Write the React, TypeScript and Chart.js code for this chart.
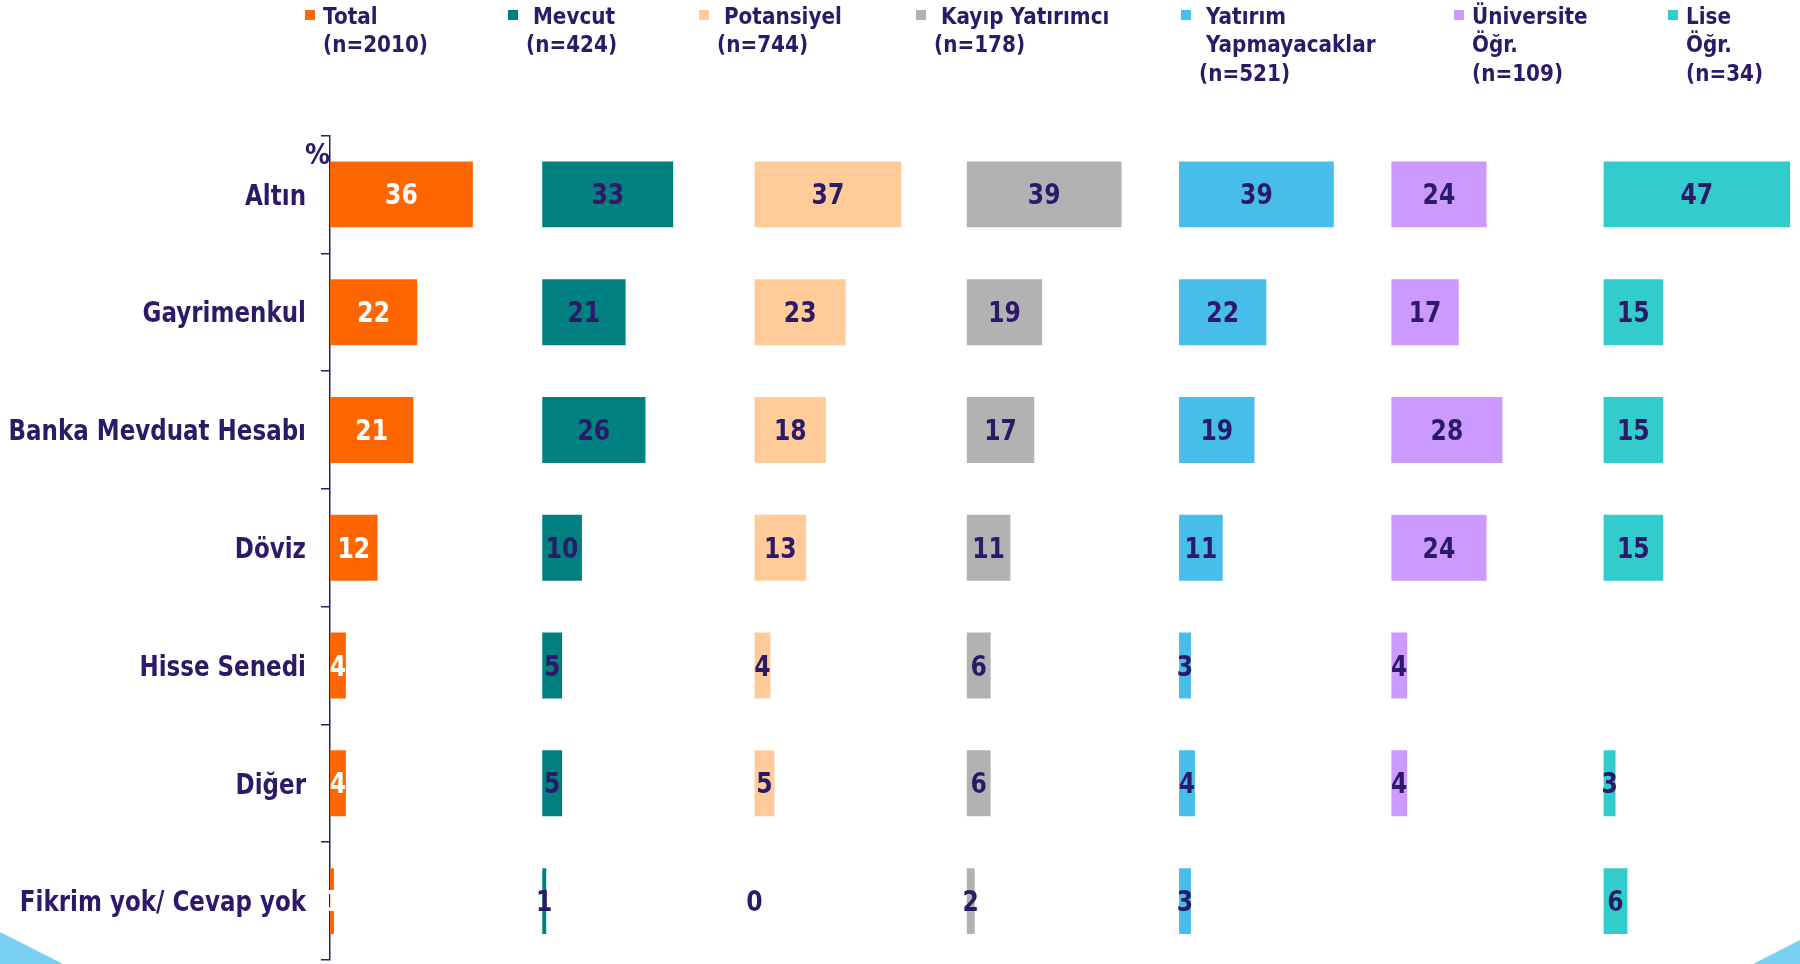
import React, { useEffect, useRef } from "react";
import { Chart, registerables } from "chart.js";

Chart.register(...registerables);

// ---------- DATA ----------
const categories = [
  "Altın",
  "Gayrimenkul",
  "Banka Mevduat Hesabı",
  "Döviz",
  "Hisse Senedi",
  "Diğer",
  "Fikrim yok/ Cevap yok",
];

const seriesLegend: string[][] = [
  ["Total", "(n=2010)"],
  [" Mevcut", "(n=424)"],
  [" Potansiyel", "(n=744)"],
  [" Kayıp Yatırımcı", "(n=178)"],
  [" Yatırım", " Yapmayacaklar", "(n=521)"],
  ["Üniversite", "Öğr.", "(n=109)"],
  ["Lise", "Öğr.", "(n=34)"],
];

const totalValues = [36, 22, 21, 12, 4, 4, 1];
const mevcutValues = [33, 21, 26, 10, 5, 5, 1];
const potansiyelValues = [37, 23, 18, 13, 4, 5, 0];
const kayipValues = [39, 19, 17, 11, 6, 6, 2];
const yatirimValues = [39, 22, 19, 11, 3, 4, 3];
const universiteValues: (number | null)[] = [24, 17, 28, 24, 4, 4, null];
const liseValues: (number | null)[] = [47, 15, 15, 15, null, 3, 6];

const seriesValues: (number | null)[][] = [
  totalValues,
  mevcutValues,
  potansiyelValues,
  kayipValues,
  yatirimValues,
  universiteValues,
  liseValues,
];

const seriesColors = ["#FF6600", "#008080", "#FFCC99", "#B2B2B2", "#47BEEA", "#CC99FF", "#33CCCC"];

// ---------- STYLE / LAYOUT ----------
const NAVY = "#2C1A69";
const FONT = '"DejaVu Sans", Verdana, sans-serif';
const PANEL_STEP = 53.5; // units between panel origins
const X_MAX = 370.5;
const AXIS_X = 330;
const LEGEND_X = [305, 508, 699, 916, 1181, 1454, 1668];
const labelColors = ["#FFFFFF", NAVY, NAVY, NAVY, NAVY, NAVY, NAVY];

function drawTextBaseline(
  ctx: CanvasRenderingContext2D,
  text: string,
  x: number,
  baseline: number,
  size: number,
  vscale: number,
  color: string,
  align: CanvasTextAlign
) {
  ctx.save();
  ctx.font = `bold ${size}px ${FONT}`;
  ctx.fillStyle = color;
  ctx.textAlign = align;
  ctx.textBaseline = "alphabetic";
  ctx.translate(x, baseline);
  ctx.scale(1, vscale);
  ctx.fillText(text, 0, 0);
  ctx.restore();
}

function drawTextCentered(
  ctx: CanvasRenderingContext2D,
  text: string,
  x: number,
  yCenter: number,
  size: number,
  vscale: number,
  color: string,
  align: CanvasTextAlign
) {
  const cap = 0.729 * size * vscale;
  drawTextBaseline(ctx, text, x, yCenter + cap / 2, size, vscale, color, align);
}

const backgroundPlugin = {
  id: "bgDecor",
  beforeDraw(chart: any) {
    const { ctx, width, height } = chart;
    ctx.save();
    ctx.fillStyle = "#FFFFFF";
    ctx.fillRect(0, 0, width, height);
    ctx.fillStyle = "#79CFF2";
    ctx.beginPath();
    ctx.moveTo(0, height - 32);
    ctx.lineTo(63, height);
    ctx.lineTo(0, height);
    ctx.closePath();
    ctx.fill();
    ctx.beginPath();
    ctx.moveTo(width, height - 24);
    ctx.lineTo(width, height);
    ctx.lineTo(width - 47, height);
    ctx.closePath();
    ctx.fill();
    ctx.restore();
  },
};

const labelsPlugin = {
  id: "valueLabels",
  afterDatasetsDraw(chart: any) {
    const ctx = chart.ctx;
    chart.data.datasets.forEach((_ds: any, di: number) => {
      const meta = chart.getDatasetMeta(di);
      const vals = seriesValues[di];
      meta.data.forEach((el: any, i: number) => {
        const v = vals[i];
        if (v == null) return;
        const p = el.getProps(["x", "y", "base"], true);
        drawTextCentered(ctx, String(v), (p.x + p.base) / 2, p.y, 23.5, 1.17, labelColors[di], "center");
      });
    });
  },
  afterDraw(chart: any) {
    const ctx = chart.ctx;
    const yScale = chart.scales.y;
    const labels: string[] = chart.data.labels;
    labels.forEach((c, i) => {
      drawTextCentered(ctx, c, yScale.right - 24, yScale.getPixelForValue(i), 23, 1.23, NAVY, "right");
    });
    drawTextCentered(ctx, "%", yScale.right, chart.chartArea.top + 18.5, 25, 1.1, NAVY, "right");

    // legend
    chart.data.datasets.forEach((ds: any, di: number) => {
      const lx = LEGEND_X[di];
      ctx.save();
      ctx.fillStyle = ds.backgroundColor;
      ctx.fillRect(lx, 10, 10, 10);
      ctx.restore();
      seriesLegend[di].forEach((line, j) => {
        drawTextBaseline(ctx, line, lx + 18, 23.5 + j * 28.5, 20, 1.15, NAVY, "left");
      });
    });
  },
};

export default function App() {
  const ref = useRef<HTMLCanvasElement>(null);

  useEffect(() => {
    if (!ref.current) return;
    const datasets = seriesValues.map((vals, k) => ({
      label: seriesLegend[k].join(" ").trim(),
      data: vals.map((v) => (v == null ? null : [k * PANEL_STEP, k * PANEL_STEP + v])),
      backgroundColor: seriesColors[k],
      borderWidth: 0,
      grouped: false,
      barPercentage: 0.56,
      categoryPercentage: 1,
    }));

    const chart = new Chart(ref.current, {
      type: "bar",
      data: { labels: categories, datasets: datasets as any },
      options: {
        indexAxis: "y",
        animation: false,
        responsive: false,
        maintainAspectRatio: false,
        events: [],
        layout: { padding: { top: 135.5, bottom: 4, left: 0, right: 0 } },
        plugins: {
          legend: { display: false },
          tooltip: { enabled: false },
          title: { display: false },
        },
        scales: {
          x: { type: "linear", display: false, min: 0, max: X_MAX },
          y: {
            type: "category",
            offset: true,
            grid: {
              offset: true,
              drawOnChartArea: false,
              drawTicks: true,
              tickLength: 9,
              color: NAVY,
              lineWidth: 1.5,
            },
            border: { display: true, color: NAVY, width: 1.5 },
            ticks: { display: false },
            afterFit: (s: any) => {
              s.width = AXIS_X;
            },
          },
        },
      } as any,
      plugins: [backgroundPlugin, labelsPlugin],
    });
    return () => chart.destroy();
  }, []);

  return (
    <div style={{ position: "fixed", left: 0, top: 0, width: 1800, height: 964, background: "#fff" }}>
      <canvas ref={ref} width={1800} height={964} style={{ display: "block", width: 1800, height: 964 }} />
    </div>
  );
}
